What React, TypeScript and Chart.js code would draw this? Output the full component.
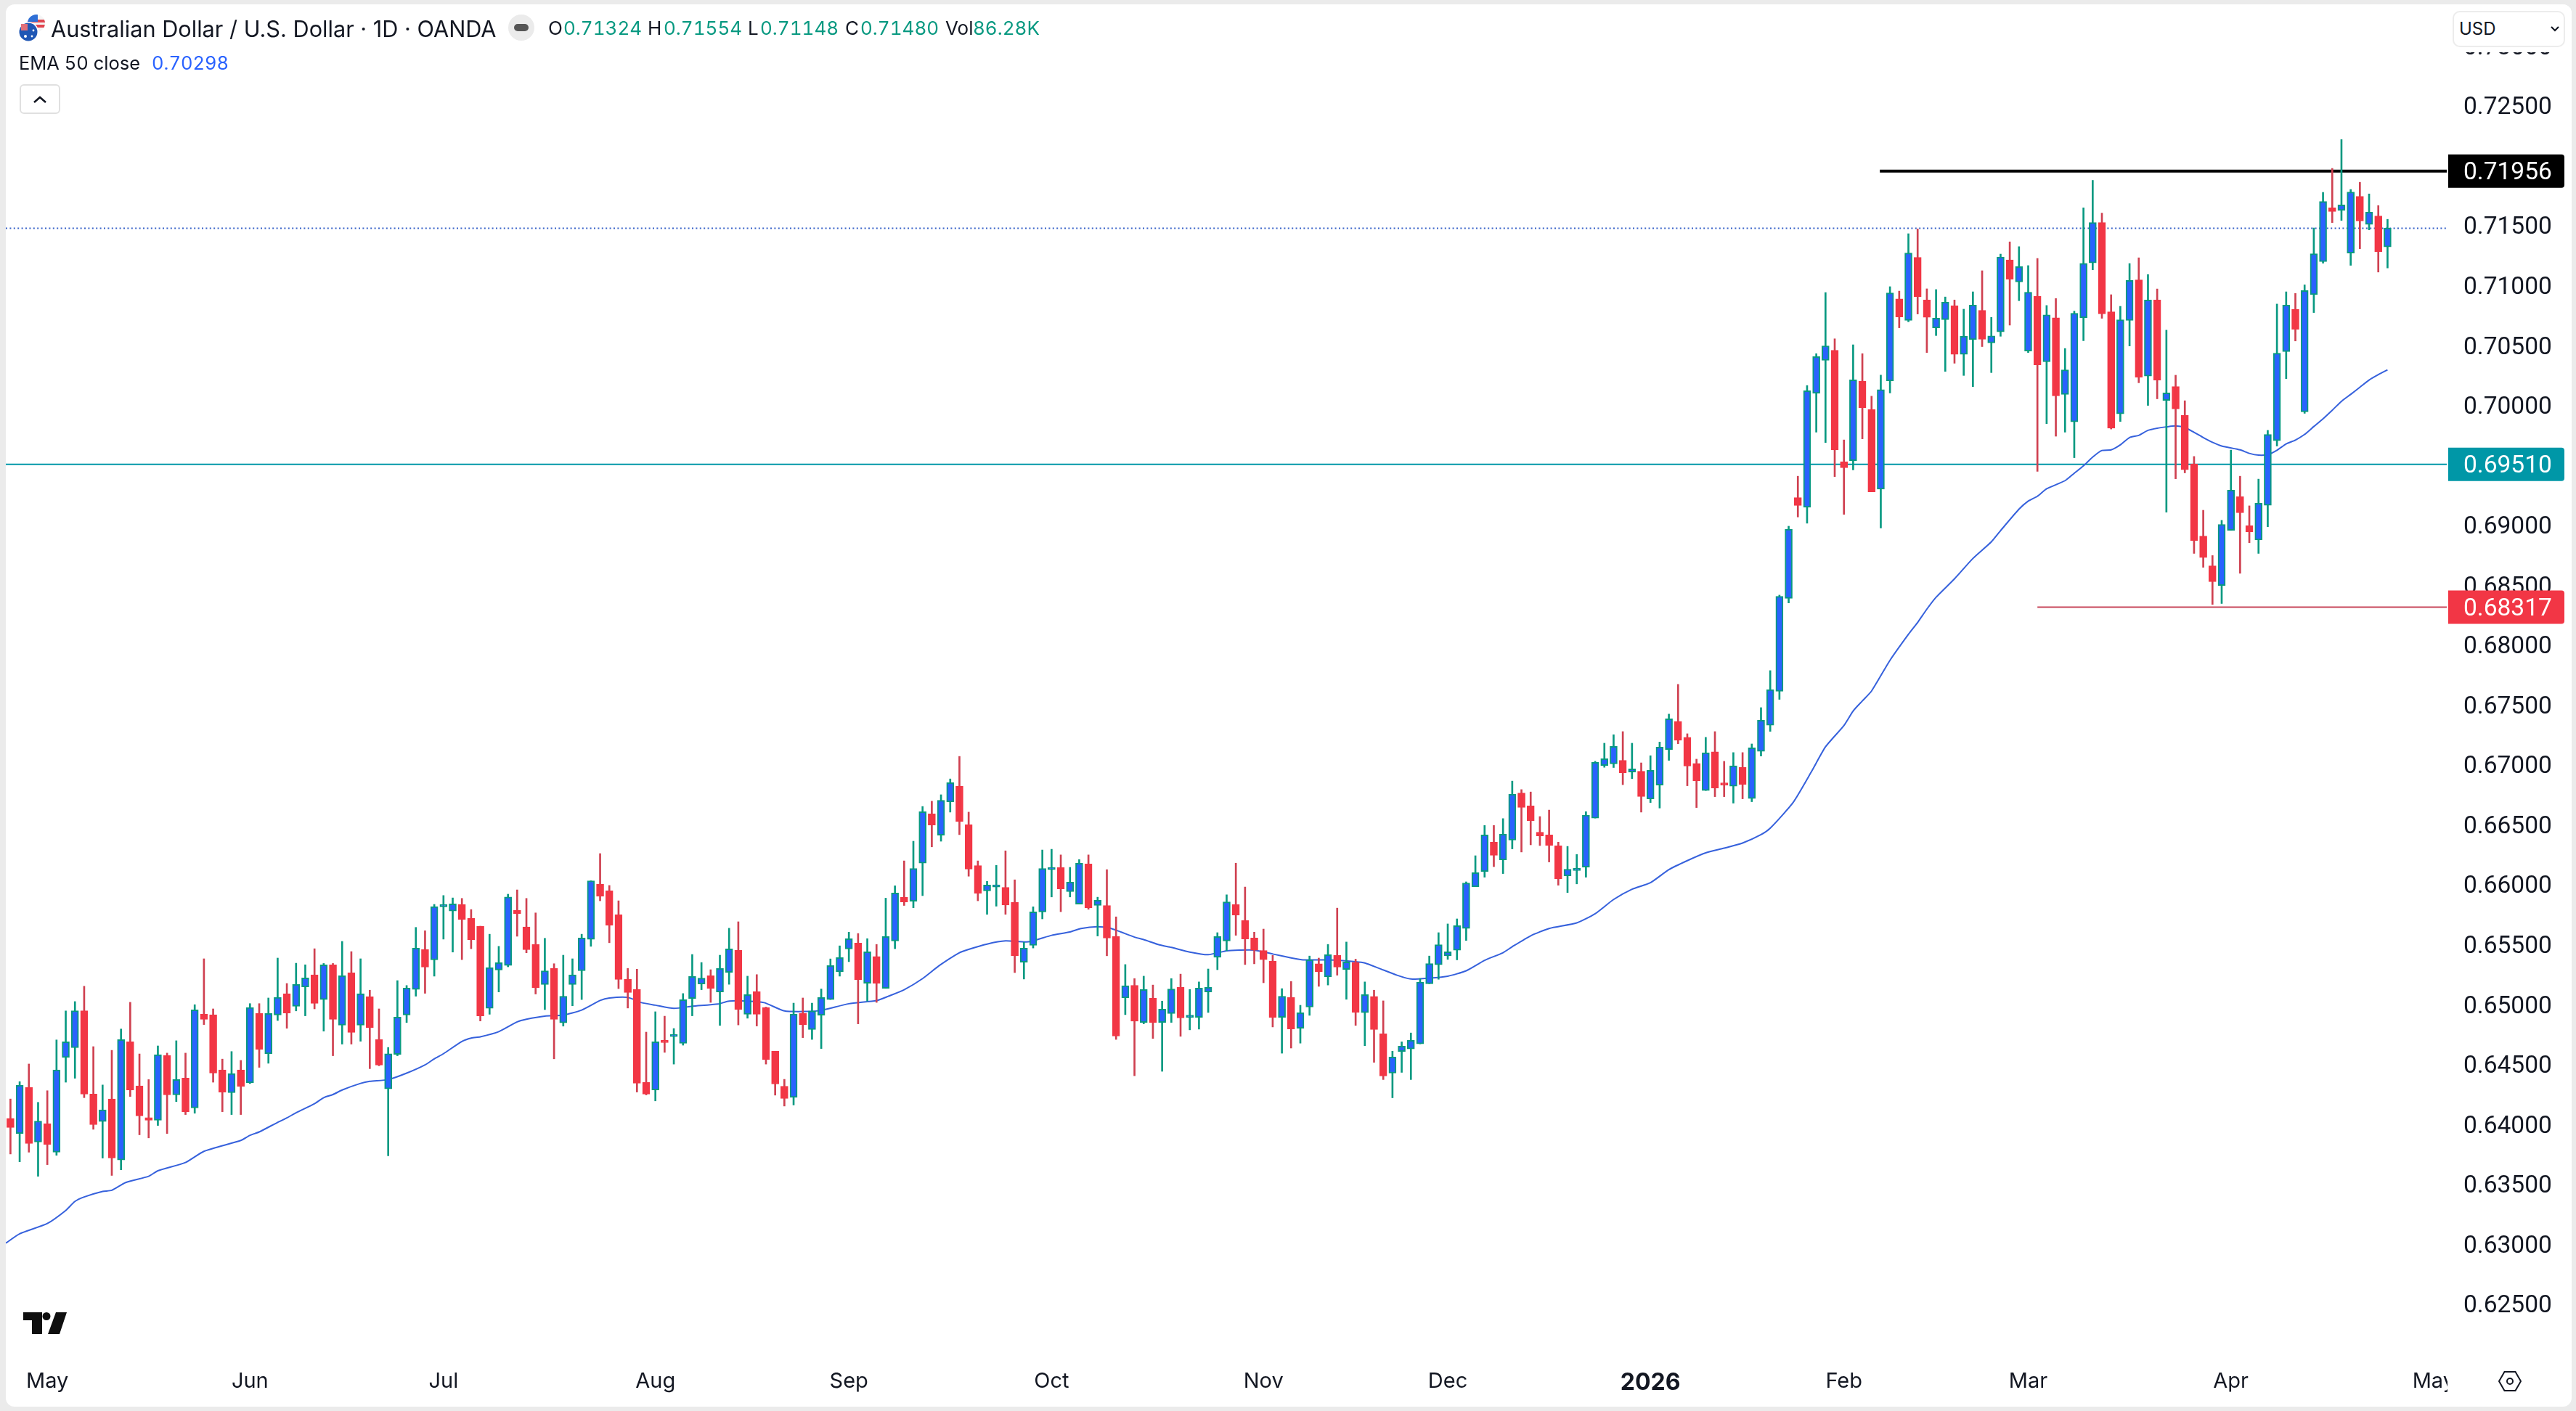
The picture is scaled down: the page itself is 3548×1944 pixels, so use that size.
import React, { useEffect, useRef } from "react";
import { Chart, registerables } from "chart.js";

Chart.register(...registerables);

const opens = [
0.64051,0.63925,0.64310,0.63854,0.64007,0.63769,0.64559,0.64641,0.64950,0.64254,
0.64025,0.64213,0.63704,0.64691,0.64323,0.64057,0.64035,0.64576,0.64247,0.64388,
0.64139,0.64920,0.64916,0.64455,0.64265,0.64455,0.64349,0.64927,0.64591,0.64914,
0.65091,0.64987,0.65149,0.65249,0.65043,0.65333,0.64829,0.65266,0.64829,0.65067,
0.64708,0.64297,0.64585,0.64914,0.65128,0.65461,0.65374,0.65816,0.65781,0.65837,
0.65720,0.65655,0.64970,0.65290,0.65327,0.65787,0.65649,0.65502,0.65169,0.65303,
0.64849,0.65169,0.65283,0.65545,0.66006,0.65950,0.65751,0.65212,0.65128,0.64351,
0.64288,0.64688,0.64734,0.64677,0.65052,0.65173,0.65242,0.65106,0.65270,0.65454,
0.64920,0.65110,0.64976,0.64612,0.64320,0.64227,0.64928,0.64792,0.64913,0.65043,
0.65276,0.65465,0.65514,0.65179,0.65402,0.65136,0.65532,0.65895,0.65863,0.66181,
0.66592,0.66414,0.66693,0.66823,0.66503,0.66161,0.65949,0.65982,0.65979,0.65854,
0.65354,0.65495,0.65774,0.66127,0.66144,0.65943,0.65839,0.66174,0.65828,0.65828,
0.65568,0.65058,0.65162,0.64852,0.65054,0.64852,0.64926,0.65144,0.64894,0.64894,
0.65106,0.65395,0.65532,0.65835,0.65703,0.65556,0.65452,0.65363,0.64894,0.65060,
0.64803,0.64980,0.65341,0.65233,0.65411,0.65294,0.65354,0.64933,0.65069,0.64757,
0.64429,0.64610,0.64630,0.64673,0.65175,0.65333,0.65408,0.65454,0.65636,0.65984,
0.66111,0.66356,0.66209,0.66373,0.66767,0.66659,0.66440,0.66416,0.66326,0.66075,
0.66120,0.66148,0.66557,0.66996,0.67009,0.67039,0.66942,0.66948,0.66717,0.66833,
0.67130,0.67364,0.67231,0.67013,0.66787,0.67110,0.66841,0.66823,0.66980,0.66720,
0.67114,0.67332,0.67616,0.68391,0.69231,0.69151,0.70102,0.70377,0.70461,0.69531,
0.69540,0.70204,0.69966,0.69302,0.70207,0.70890,0.70711,0.71236,0.70881,0.70649,
0.70717,0.70832,0.70427,0.70550,0.70794,0.70523,0.70615,0.71215,0.71032,0.70455,
0.70912,0.70365,0.70733,0.70093,0.69864,0.70733,0.71191,0.71527,0.70783,0.69930,
0.70710,0.71049,0.70245,0.70881,0.70043,0.70158,0.69917,0.69512,0.68910,0.68663,
0.68498,0.68958,0.69239,0.68997,0.68879,0.69168,0.69706,0.70450,0.70802,0.69948,
0.70925,0.71201,0.71650,0.71629,0.71272,0.71745,0.71511,0.71582,0.71324];

const highs = [
0.64213,0.64358,0.64505,0.64185,0.64282,0.64706,0.64948,0.65026,0.65154,0.64650,
0.64330,0.64619,0.64797,0.65020,0.64589,0.64375,0.64656,0.64596,0.64699,0.64596,
0.65000,0.65383,0.64965,0.64546,0.64609,0.64535,0.65009,0.65009,0.65056,0.65389,
0.65177,0.65346,0.65333,0.65467,0.65344,0.65344,0.65528,0.65443,0.65383,0.65121,
0.64965,0.64643,0.65201,0.65160,0.65645,0.65617,0.65837,0.65911,0.65891,0.65887,
0.65794,0.65655,0.65588,0.65487,0.65922,0.65958,0.65887,0.65766,0.65554,0.65342,
0.65413,0.65383,0.65588,0.66034,0.66261,0.65995,0.65867,0.65303,0.65296,0.64771,
0.64941,0.64904,0.64801,0.65093,0.65419,0.65352,0.65292,0.65413,0.65638,0.65692,
0.65238,0.65251,0.64980,0.64612,0.64377,0.65013,0.65056,0.65013,0.65131,0.65382,
0.65491,0.65605,0.65594,0.65551,0.65503,0.65889,0.65992,0.66200,0.66364,0.66654,
0.66698,0.66752,0.66884,0.67072,0.66607,0.66200,0.66029,0.66163,0.66284,0.66042,
0.65521,0.65817,0.66291,0.66297,0.66250,0.66146,0.66211,0.66250,0.65897,0.66127,
0.65733,0.65335,0.65218,0.65238,0.65164,0.65030,0.65218,0.65255,0.65127,0.65190,
0.65298,0.65601,0.65917,0.66181,0.65982,0.65605,0.65631,0.65411,0.65134,0.65194,
0.64995,0.65406,0.65389,0.65503,0.65806,0.65523,0.65380,0.65190,0.65121,0.65032,
0.64612,0.64690,0.64764,0.65218,0.65406,0.65601,0.65674,0.65716,0.66025,0.66243,
0.66496,0.66496,0.66553,0.66866,0.66795,0.66775,0.66570,0.66624,0.66356,0.66321,
0.66254,0.66611,0.67031,0.67182,0.67253,0.67279,0.67182,0.67018,0.67078,0.67192,
0.67425,0.67673,0.67261,0.67049,0.67231,0.67279,0.67031,0.67104,0.67104,0.67176,
0.67479,0.67788,0.68418,0.68993,0.69410,0.70167,0.70433,0.70943,0.70557,0.69713,
0.70507,0.70433,0.70078,0.70254,0.70992,0.70955,0.71434,0.71474,0.70974,0.70968,
0.70906,0.70881,0.70804,0.70949,0.71125,0.70736,0.71264,0.71366,0.71326,0.71168,
0.71227,0.70835,0.70893,0.70476,0.70788,0.71650,0.71879,0.71606,0.70925,0.70828,
0.71185,0.71233,0.71093,0.70973,0.70629,0.70253,0.70040,0.69575,0.69126,0.68748,
0.69042,0.69628,0.69410,0.69163,0.69386,0.69793,0.70847,0.70949,0.70936,0.71007,
0.71482,0.71779,0.71979,0.72220,0.71803,0.71863,0.71766,0.71669,0.71554];

const lows = [
0.63754,0.63689,0.63769,0.63568,0.63665,0.63743,0.64353,0.64386,0.64224,0.63960,
0.63720,0.63575,0.63622,0.64234,0.63914,0.63888,0.63992,0.63925,0.64191,0.64083,
0.64094,0.64834,0.64353,0.64107,0.64083,0.64083,0.64342,0.64477,0.64511,0.64868,
0.64803,0.64948,0.64907,0.64965,0.64779,0.64574,0.64671,0.64671,0.64695,0.64466,
0.64490,0.63739,0.64574,0.64851,0.65071,0.65095,0.65238,0.65547,0.65439,0.65376,
0.65467,0.64864,0.64920,0.65106,0.65316,0.65571,0.65433,0.65089,0.64959,0.64548,
0.64821,0.64991,0.65043,0.65487,0.65867,0.65517,0.65134,0.64972,0.64271,0.64247,
0.64197,0.64602,0.64504,0.64662,0.64907,0.65125,0.65019,0.64827,0.65170,0.64831,
0.64887,0.64822,0.64504,0.64245,0.64154,0.64163,0.64725,0.64710,0.64634,0.65043,
0.65238,0.65359,0.64840,0.65030,0.65019,0.65136,0.65467,0.65828,0.65809,0.65910,
0.66317,0.66364,0.66607,0.66419,0.66072,0.65867,0.65754,0.65822,0.65754,0.65268,
0.65214,0.65473,0.65716,0.65899,0.65776,0.65899,0.65839,0.65796,0.65573,0.65408,
0.64710,0.64917,0.64407,0.64840,0.64718,0.64444,0.64852,0.64736,0.64790,0.64796,
0.64935,0.65292,0.65450,0.65579,0.65335,0.65341,0.65183,0.64814,0.64595,0.64638,
0.64679,0.64911,0.65153,0.65164,0.65246,0.65045,0.64827,0.64658,0.64519,0.64375,
0.64223,0.64435,0.64375,0.64673,0.65175,0.65212,0.65378,0.65374,0.65536,0.65984,
0.66064,0.66152,0.66094,0.66300,0.66274,0.66334,0.66328,0.66191,0.65997,0.65936,
0.66008,0.66064,0.66557,0.66981,0.66979,0.66836,0.66886,0.66607,0.66687,0.66641,
0.67039,0.67178,0.66827,0.66645,0.66787,0.66736,0.66736,0.66682,0.66718,0.66694,
0.67075,0.67281,0.67548,0.68353,0.69070,0.69018,0.69778,0.69691,0.69407,0.69092,
0.69463,0.69722,0.69280,0.68978,0.70105,0.70649,0.70699,0.70764,0.70442,0.70584,
0.70285,0.70353,0.70251,0.70158,0.70492,0.70275,0.70578,0.70671,0.70875,0.70442,
0.69450,0.69849,0.69744,0.69778,0.69565,0.70541,0.71133,0.70728,0.69804,0.69867,
0.70497,0.70190,0.70001,0.70056,0.69110,0.69389,0.69438,0.68766,0.68650,0.68340,
0.68348,0.68958,0.68600,0.68855,0.68766,0.68989,0.69662,0.70224,0.70539,0.69935,
0.70776,0.71188,0.71527,0.71545,0.71170,0.71309,0.71466,0.71114,0.71148];

const closes = [
0.63975,0.64327,0.63841,0.64029,0.63834,0.64455,0.64691,0.64950,0.64254,0.63999,
0.64122,0.63720,0.64708,0.64288,0.64072,0.64035,0.64583,0.64247,0.64375,0.64107,
0.64957,0.64877,0.64429,0.64271,0.64425,0.64319,0.64976,0.64628,0.64927,0.65061,
0.64931,0.65169,0.65223,0.65011,0.65333,0.64877,0.65242,0.64769,0.65091,0.64810,
0.64496,0.64591,0.64896,0.65139,0.65472,0.65314,0.65818,0.65837,0.65841,0.65712,
0.65543,0.64907,0.65309,0.65350,0.65898,0.65761,0.65459,0.65143,0.65283,0.64877,
0.65071,0.65249,0.65556,0.66034,0.65906,0.65664,0.65210,0.65102,0.64345,0.64254,
0.64690,0.64684,0.64738,0.65041,0.65235,0.65222,0.65136,0.65302,0.65465,0.64961,
0.65084,0.64920,0.64543,0.64338,0.64217,0.64920,0.64833,0.64948,0.65060,0.65326,
0.65393,0.65551,0.65209,0.65441,0.65179,0.65568,0.65932,0.65858,0.66137,0.66611,
0.66499,0.66706,0.66853,0.66529,0.66131,0.65930,0.65999,0.65990,0.65832,0.65408,
0.65471,0.65774,0.66137,0.66137,0.65966,0.66023,0.66181,0.65809,0.65871,0.65556,
0.64738,0.65158,0.64863,0.65127,0.64852,0.64963,0.65131,0.64889,0.64902,0.65138,
0.65144,0.65568,0.65858,0.65748,0.65549,0.65454,0.65376,0.64894,0.65071,0.64798,
0.64933,0.65374,0.65276,0.65417,0.65313,0.65356,0.64937,0.65084,0.64792,0.64405,
0.64563,0.64654,0.64703,0.65188,0.65343,0.65501,0.65441,0.65659,0.66016,0.66101,
0.66416,0.66246,0.66423,0.66756,0.66646,0.66535,0.66408,0.66330,0.66051,0.66131,
0.66127,0.66581,0.67022,0.67052,0.67156,0.66935,0.66968,0.66737,0.66955,0.67150,
0.67386,0.67207,0.66991,0.66869,0.67102,0.66809,0.66833,0.66993,0.66839,0.67144,
0.67374,0.67629,0.68408,0.68968,0.69166,0.70124,0.70408,0.70498,0.69630,0.69481,
0.70214,0.69982,0.69280,0.70133,0.70940,0.70739,0.71273,0.70909,0.70736,0.70730,
0.70862,0.70427,0.70578,0.70838,0.70553,0.70581,0.71239,0.71054,0.71159,0.70946,
0.70340,0.70757,0.70081,0.70297,0.70770,0.71187,0.71527,0.70765,0.69811,0.70715,
0.71044,0.70237,0.70881,0.70213,0.70106,0.69972,0.69465,0.68874,0.68732,0.68530,
0.69008,0.69294,0.69105,0.68947,0.69184,0.69759,0.70437,0.70839,0.70636,0.70959,
0.71267,0.71703,0.71619,0.71674,0.71782,0.71540,0.71614,0.71285,0.71480];

// EMA 50 at these candle indices
const emaIndex = [-0.5,1,4,6,7,8,10,11,12.5,15,16,19,21,25,26,27,29,30,31,33,34,35,36,38,39,41,43,45,46,47,49,50,51,53,55,56,58,60,62,64,65,67,68.5,70,72,74,76.8,78,80,81.8,84,86.3,88,91,94,95.3,97,99,100.8,103,104,106,108,110.5,113,115,116.2,118,119.3,122,123,124.7,126,128,130,132,133.4,135,137,139,140.3,143,146,147,148.5,150.5,152,154,156,158,160,162,163,165,167,170,172,174,176,178,180,182,184,186,188,190,191,193.5,195.5,197,199,200,201,202,204,206,207,208,209,211,213,215,216,218,219,220,221,223,224,225,226,227,228,229,230,231,232,233,234,235,236,237,238,239,240,242,243,244,245,246,247,248,249,250,251,252,253,254,255,256,257,258];
const emaValues = [0.63010,0.63088,0.63174,0.63283,0.63358,0.63395,0.63441,0.63451,0.63516,0.63568,0.63614,0.63683,0.63776,0.63867,0.63910,0.63938,0.64018,0.64055,0.64098,0.64174,0.64224,0.64250,0.64288,0.64343,0.64360,0.64375,0.64429,0.64498,0.64548,0.64591,0.64693,0.64721,0.64732,0.64775,0.64857,0.64879,0.64905,0.64914,0.64955,0.65035,0.65056,0.65061,0.65017,0.64996,0.64969,0.64987,0.65006,0.65030,0.65030,0.65017,0.64948,0.64943,0.64952,0.65008,0.65034,0.65071,0.65125,0.65218,0.65326,0.65434,0.65462,0.65506,0.65532,0.65525,0.65579,0.65607,0.65636,0.65651,0.65640,0.65564,0.65543,0.65499,0.65478,0.65439,0.65417,0.65450,0.65456,0.65456,0.65423,0.65391,0.65374,0.65374,0.65359,0.65348,0.65305,0.65246,0.65214,0.65222,0.65238,0.65283,0.65370,0.65434,0.65484,0.65575,0.65636,0.65683,0.65759,0.65878,0.65964,0.66018,0.66127,0.66202,0.66267,0.66306,0.66349,0.66419,0.66473,0.66689,0.66948,0.67152,0.67330,0.67451,0.67535,0.67618,0.67874,0.68091,0.68190,0.68301,0.68400,0.68554,0.68724,0.68863,0.68956,0.69135,0.69203,0.69243,0.69305,0.69373,0.69435,0.69497,0.69570,0.69625,0.69630,0.69672,0.69733,0.69751,0.69793,0.69811,0.69822,0.69830,0.69817,0.69777,0.69733,0.69693,0.69662,0.69630,0.69601,0.69586,0.69591,0.69627,0.69680,0.69712,0.69759,0.69825,0.69890,0.69961,0.70035,0.70093,0.70153,0.70213,0.70258,0.70298];

const monthLabels = ["May","Jun","Jul","Aug","Sep","Oct","Nov","Dec","2026","Feb","Mar","Apr","May"];
const monthIndex = [4,26,47,70,91,113,136,156,178,199,219,241,263];
const priceTicks = [0.625,0.63,0.635,0.64,0.645,0.65,0.655,0.66,0.665,0.67,0.675,0.68,0.685,0.69,0.695,0.70,0.705,0.71,0.715,0.72,0.725,0.73];

const lastClose = 0.7148;
const resistance = 0.71956;
const resistanceFrom = 202.9;
const midLevel = 0.6951;
const support = 0.68317;
const supportFrom = 220;

const X_MIN = -0.504;
const X_MAX = 264.43;
const Y_MIN = 0.62118;
const Y_MAX = 0.72924;

const BLUE = "#2962ff";
const TEAL = "#089981";
const RED = "#f23645";
const RED_WICK = "#cf4050";
const TAG_TEAL = "#0097a7";
const INK = "#131722";
const FONT = "Inter";
const TICK_FONT = "Roboto";
const TICK_SIZE = 33.5;

const idx = opens.map((_, i) => i);
const isUp = (i: number) => closes[i] >= opens[i];

const tagPlugin = {
  id: "priceTags",
  afterDraw(chart: any) {
    const { ctx, chartArea, scales } = chart;
    const r = chartArea.right;
    ctx.save();
    ctx.fillStyle = "#ffffff";
    ctx.fillRect(r + 1, 0, 172, 66);
    ctx.fillRect(r + 1, chartArea.bottom + 4, 60, 70);
    const tags: [number, string][] = [
      [resistance, "#000000"],
      [midLevel, TAG_TEAL],
      [support, RED],
    ];
    for (const [v, color] of tags) {
      const y = scales.y.getPixelForValue(v);
      ctx.fillStyle = color;
      ctx.beginPath();
      ctx.roundRect(r + 2, y - 23, 160, 46, [0, 4, 4, 0]);
      ctx.fill();
      ctx.fillStyle = "#ffffff";
      ctx.font = `${TICK_SIZE}px ${TICK_FONT}`;
      ctx.textAlign = "left";
      ctx.textBaseline = "middle";
      ctx.fillText(v.toFixed(5), r + 23, y + 3);
    }
    ctx.restore();
  },
};

function Candles() {
  const ref = useRef<HTMLCanvasElement>(null);
  useEffect(() => {
    const chart = new Chart(ref.current as any, {
      type: "bar",
      plugins: [tagPlugin],
      data: {
        datasets: [
          {
            type: "bar",
            label: "body",
            order: 1,
            grouped: false,
            barThickness: 10,
            minBarLength: 3,
            borderWidth: 2,
            borderSkipped: false,
            backgroundColor: idx.map((i) => (isUp(i) ? BLUE : RED)),
            borderColor: idx.map((i) => (isUp(i) ? TEAL : RED)),
            data: idx.map((i) => ({ x: i, y: [opens[i], closes[i]] })),
          },
          {
            type: "bar",
            label: "wick",
            order: 2,
            grouped: false,
            barThickness: 2,
            borderWidth: 0,
            backgroundColor: idx.map((i) => (isUp(i) ? TEAL : RED_WICK)),
            data: idx.map((i) => ({ x: i, y: [lows[i], highs[i]] })),
          },
          {
            type: "line",
            label: "EMA 50 close",
            order: 3,
            borderColor: "#3661dc",
            borderWidth: 2,
            pointRadius: 0,
            tension: 0.2,
            data: emaIndex.map((x, i) => ({ x, y: emaValues[i] })),
          },
          {
            type: "line",
            label: "Last",
            order: 4,
            borderColor: "#3661c8",
            borderWidth: 2,
            borderDash: [2, 3.4],
            pointRadius: 0,
            data: [{ x: X_MIN, y: lastClose }, { x: X_MAX, y: lastClose }],
          },
          {
            type: "line",
            label: "Mid",
            order: 5,
            borderColor: TAG_TEAL,
            borderWidth: 2,
            pointRadius: 0,
            data: [{ x: X_MIN, y: midLevel }, { x: X_MAX, y: midLevel }],
          },
          {
            type: "line",
            label: "Resistance",
            order: 6,
            borderColor: "#000000",
            borderWidth: 4,
            pointRadius: 0,
            data: [{ x: resistanceFrom, y: resistance }, { x: X_MAX, y: resistance }],
          },
          {
            type: "line",
            label: "Support",
            order: 7,
            borderColor: "#c8475a",
            borderWidth: 2,
            pointRadius: 0,
            data: [{ x: supportFrom, y: support }, { x: X_MAX, y: support }],
          },
        ],
      } as any,
      options: {
        responsive: false,
        animation: false,
        devicePixelRatio: 1,
        layout: { padding: { top: 70, left: 0, right: 0, bottom: 0 } },
        plugins: { legend: { display: false }, tooltip: { enabled: false } },
        scales: {
          x: {
            type: "linear",
            offset: false,
            min: X_MIN,
            max: X_MAX,
            border: { display: false },
            grid: { display: false, drawTicks: false },
            afterBuildTicks: (s: any) => {
              s.ticks = monthIndex.map((value) => ({ value }));
            },
            afterFit: (s: any) => {
              s.height = 78;
            },
            ticks: {
              autoSkip: false,
              maxRotation: 0,
              padding: 26,
              color: INK,
              font: (c: any) => {
                const bold = c.tick && c.tick.value === 178;
                return { family: FONT, size: bold ? 32 : 29, weight: bold ? "bold" : "normal" };
              },
              callback: (v: any) => monthLabels[monthIndex.indexOf(v)],
            },
          },
          y: {
            type: "linear",
            position: "right",
            min: Y_MIN,
            max: Y_MAX,
            border: { display: false },
            grid: { display: false, drawTicks: false },
            afterBuildTicks: (s: any) => {
              s.ticks = priceTicks.map((value) => ({ value }));
            },
            afterFit: (s: any) => {
              s.width = 172;
            },
            ticks: {
              autoSkip: false,
              padding: 23,
              labelOffset: 3,
              color: INK,
              font: { family: TICK_FONT, size: TICK_SIZE },
              callback: (v: any) => Number(v).toFixed(5),
            },
          },
        },
      } as any,
    });
    return () => chart.destroy();
  }, []);
  return (
    <canvas
      ref={ref}
      width={3534}
      height={1932}
      style={{ position: "absolute", left: 0, top: 0, display: "block" }}
    />
  );
}

const abs = (left: number, top: number, size: number, color = INK): React.CSSProperties => ({
  position: "absolute",
  left,
  top,
  fontSize: size,
  lineHeight: `${size + 6}px`,
  color,
  fontFamily: FONT,
  fontVariantNumeric: "tabular-nums",
  whiteSpace: "nowrap",
});

const Flag = () => (
  <svg style={{ position: "absolute", left: 24, top: 18 }} width={42} height={40} viewBox="0 0 42 40">
    <defs>
      <clipPath id="us"><circle cx="26" cy="14" r="12" /></clipPath>
    </defs>
    <g clipPath="url(#us)">
      <rect x="14" y="2" width="24" height="24" fill="#f5f5f5" />
      <rect x="14" y="9" width="24" height="4" fill="#e0454f" />
      <rect x="14" y="16" width="24" height="4" fill="#e0454f" />
      <rect x="14" y="2" width="14" height="10" fill="#2f6fd6" />
    </g>
    <circle cx="15" cy="26" r="14" fill="#ffffff" />
    <circle cx="15" cy="26" r="12.5" fill="#1f57b5" />
    <rect x="5" y="15" width="9" height="9" fill="#e0707a" />
    <circle cx="22" cy="24" r="1.4" fill="#fff" />
    <circle cx="11" cy="32" r="2" fill="#fff" />
    <circle cx="20" cy="32" r="1.4" fill="#fff" />
  </svg>
);

export default function App() {
  return (
    <div style={{ position: "fixed", left: 0, top: 0, width: 3548, height: 1944, background: "#ebebeb", overflow: "hidden" }}>
      <div style={{ position: "absolute", left: 8, top: 6, width: 3534, height: 1932, background: "#fff", borderRadius: 12, overflow: "hidden" }}>
        <Candles />
      </div>

      <Flag />
      <div style={{ ...abs(70, 22, 30.7), fontVariantNumeric: "normal" }}>Australian Dollar / U.S. Dollar · 1D · OANDA</div>

      <div style={{ position: "absolute", left: 700, top: 20, width: 36, height: 36, borderRadius: 18, background: "#ebebeb" }} />
      <div style={{ position: "absolute", left: 708, top: 33, width: 20, height: 10, borderRadius: 5, background: "#555" }} />

      <div style={abs(755, 23, 26)}>O</div>
      <div style={abs(776, 23, 26, TEAL)}>0.71324</div>
      <div style={abs(892, 23, 26)}>H</div>
      <div style={abs(914, 23, 26, TEAL)}>0.71554</div>
      <div style={abs(1030, 23, 26)}>L</div>
      <div style={abs(1047, 23, 26, TEAL)}>0.71148</div>
      <div style={abs(1164, 23, 26)}>C</div>
      <div style={abs(1185, 23, 26, TEAL)}>0.71480</div>
      <div style={abs(1302, 23, 26)}>Vol</div>
      <div style={abs(1340, 23, 26, TEAL)}>86.28K</div>

      <div style={abs(26, 71, 25.5)}>EMA 50 close</div>
      <div style={abs(209, 71, 25.5, BLUE)}>0.70298</div>

      <div style={{ position: "absolute", left: 27, top: 116, width: 56, height: 41, boxSizing: "border-box", border: "2px solid #e0e0e0", borderRadius: 6, background: "#fff" }} />
      <svg style={{ position: "absolute", left: 45, top: 130 }} width={20} height={14} viewBox="0 0 20 14">
        <path d="M2 11 L10 4 L18 11" fill="none" stroke="#131722" strokeWidth="2.6" />
      </svg>

      <div style={{ position: "absolute", left: 3378, top: 15, width: 155, height: 50, boxSizing: "border-box", border: "2px solid #ececec", borderRadius: 10, background: "#fff" }} />
      <div style={abs(3387, 25, 24)}>USD</div>
      <svg style={{ position: "absolute", left: 3512, top: 35, }} width={14} height={10} viewBox="0 0 14 10">
        <path d="M2 2 L7 7 L12 2" fill="none" stroke="#131722" strokeWidth="2.2" />
      </svg>

      <svg style={{ position: "absolute", left: 32, top: 1808 }} width={60} height={30} viewBox="0 0 60 30">
        <path d="M0 0 H26 V30 H12 V11 H0 Z" fill="#0f0f0f" />
        <circle cx="32" cy="5.5" r="5.5" fill="#0f0f0f" />
        <path d="M45 0 H60 L50 30 H34 Z" fill="#0f0f0f" />
      </svg>

      <svg style={{ position: "absolute", left: 3440, top: 1888 }} width={34} height={30} viewBox="0 0 34 30">
        <path d="M2 15 L9.5 2 H24.5 L32 15 L24.5 28 H9.5 Z" fill="none" stroke="#131722" strokeWidth="2" />
        <circle cx="17" cy="15" r="4" fill="none" stroke="#131722" strokeWidth="2" />
      </svg>
    </div>
  );
}
